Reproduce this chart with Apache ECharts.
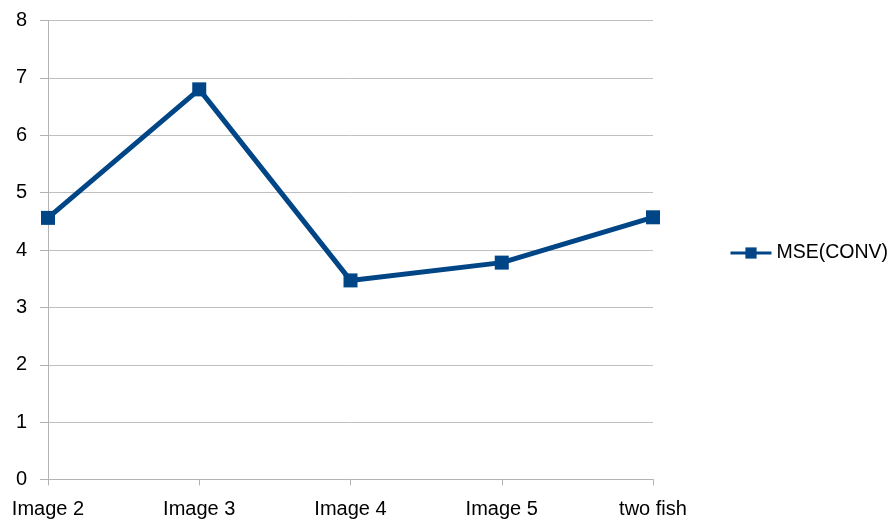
<!DOCTYPE html>
<html><head><meta charset="utf-8">
<script src="https://cdn.jsdelivr.net/npm/echarts@6/dist/echarts.min.js"></script>
<style>html,body{margin:0;padding:0;background:#fff}#c{width:889px;height:525px}</style>
</head><body><div id="c"></div>
<script>
const categories = ["Image 2", "Image 3", "Image 4", "Image 5", "two fish"];
const mseConv = [4.56, 6.80, 3.47, 3.78, 4.57];
const yTicks = { min: 0, max: 8, interval: 1 };

const chart = echarts.init(document.getElementById('c'), null, {renderer: 'canvas'});
chart.setOption({
  animation: false,
  backgroundColor: '#ffffff',
  grid: { left: 48, right: 236, top: 20.5, bottom: 45.5, containLabel: false },
  legend: {
    show: true, left: 729, top: 243, orient: 'vertical', padding: 0,
    itemWidth: 41, itemHeight: 14, itemGap: 4,
    lineStyle: { width: 3 },
    textStyle: { fontFamily: 'Liberation Sans', fontSize: 19.5, color: '#000' },
    data: ['MSE(CONV)']
  },
  xAxis: {
    type: 'category', data: categories, boundaryGap: false,
    axisLine: { lineStyle: { color: '#b3b3b3', width: 1 } },
    axisTick: { show: true, inside: false, length: 6, alignWithLabel: true, lineStyle: { color: '#b3b3b3' } },
    axisLabel: { fontFamily: 'Liberation Sans', fontSize: 20, color: '#000', margin: 20, interval: 0 },
    splitLine: { show: false }
  },
  yAxis: {
    type: 'value', min: yTicks.min, max: yTicks.max, interval: yTicks.interval,
    axisLine: { show: true, lineStyle: { color: '#b3b3b3', width: 1 } },
    axisTick: { show: true, length: 8, lineStyle: { color: '#b3b3b3' } },
    axisLabel: { fontFamily: 'Liberation Sans', fontSize: 20, color: '#000', margin: 21 },
    splitLine: { show: true, lineStyle: { color: '#c0c0c0', width: 1 } }
  },
  series: [{
    name: 'MSE(CONV)', type: 'line', data: mseConv,
    symbol: 'rect', symbolSize: 14,
    lineStyle: { color: '#004586', width: 5 },
    itemStyle: { color: '#004586' }
  }]
});
</script></body></html>
